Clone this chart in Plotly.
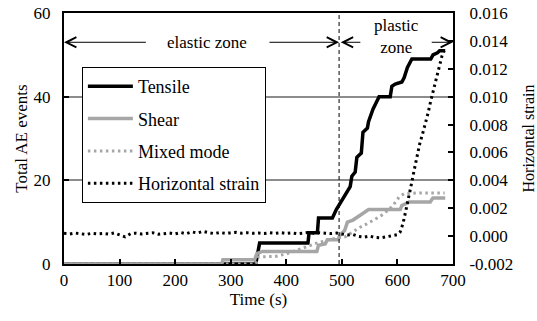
import plotly.graph_objects as go

# ---------------- data ----------------
tensile_t = [0, 345, 352, 439, 441, 456, 458, 483, 490, 497, 503, 510, 515, 518, 524, 527, 535, 538,
             546, 548, 556, 567, 587, 590, 596, 608, 612, 618, 626, 660, 664, 672, 676, 686]
tensile_v = [0, 0, 5, 5, 7.5, 7.5, 11, 11, 13, 14.5, 16, 17.5, 18.5, 21, 22, 25.5, 26.5, 31.5,
             32.5, 34, 37, 40, 40, 42.5, 43, 43.5, 44.5, 47, 49, 49, 50, 50.5, 51, 51]

shear_t = [0, 284, 286, 343, 347, 357, 455, 458, 470, 474, 493, 497, 505, 510, 520, 527, 537, 548,
           605, 608, 614, 621, 659, 664, 686]
shear_v = [0, 0, 1, 1, 2.5, 3, 3, 4.5, 4.8, 5.8, 5.8, 7, 8, 10, 10.5, 11.2, 12, 13,
           13, 14, 14.3, 14.8, 14.8, 15.8, 15.8]

mixed_t = [0, 345, 350, 380, 400, 425, 455, 475, 490, 506, 520, 533, 545, 556, 570, 585, 593,
           603, 612, 640, 685]
mixed_v = [0, 0, 1.7, 1.8, 2.4, 3.6, 5.0, 5.7, 6.2, 6.5, 7.8, 8.8, 9.6, 10.5, 11.5, 13.0, 14.2,
           16.0, 16.8, 17.0, 17.0]

strain_t = [0, 10, 20, 30, 40, 50, 60, 70, 80, 90, 100, 110, 120, 130, 140, 150, 160, 170, 180,
            190, 200, 210, 220, 230, 240, 250, 260, 270, 280, 290, 300, 310, 320, 330, 340, 350,
            360, 370, 380, 390, 400, 410, 420, 430, 440, 450, 460, 470, 480, 490, 500, 510, 520,
            530, 540, 550, 560, 570, 580, 590, 600, 605, 610, 615, 620, 625, 630, 635, 640, 645,
            650, 655, 660, 665, 670, 675, 680, 684]
strain_v = [0.00020, 0.00015, 0.00022, 0.00018, 0.00012, 0.00020, 0.00016, 0.00019, 0.00014,
            0.00022, 0.00010, -0.00005, 0.00018, 0.00021, 0.00015, 0.00019, 0.00024, 0.00014,
            0.00018, 0.00022, 0.00016, 0.00026, 0.00017, 0.00030, 0.00022, 0.00034, 0.00025,
            0.00018, 0.00026, 0.00020, 0.00023, 0.00027, 0.00021, 0.00024, 0.00020, 0.00022,
            0.00018, 0.00024, 0.00020, 0.00025, 0.00019, 0.00023, 0.00017, 0.00022, 0.00026,
            0.00020, 0.00024, 0.00021, 0.00018, 0.00022, 0.00015, 0.00008, 0.00012, -0.00002,
            -0.00008, 0.00000, -0.00010, -0.00012, -0.00005, 0.00000, 0.00010, 0.00030, 0.00090,
            0.00180, 0.00290, 0.00370, 0.00470, 0.00580, 0.00660, 0.00730, 0.00800, 0.00880,
            0.00970, 0.01050, 0.01150, 0.01220, 0.01290, 0.01330]

x_ticks = [0, 100, 200, 300, 400, 500, 600, 700]
y_ticks = [0, 20, 40, 60]
y2_ticks = [-0.002, 0.000, 0.002, 0.004, 0.006, 0.008, 0.010, 0.012, 0.014, 0.016]
y2_labels = ["-0.002", "0.000", "0.002", "0.004", "0.006", "0.008", "0.010", "0.012", "0.014", "0.016"]

zone_boundary = 495          # time (s) separating the elastic and plastic zones
arrow_level = 53             # AE-count level of the zone arrows
elastic_text_t, plastic_text_t = 257, 599
elastic_arrow_ends = [(150, 0), (367, zone_boundary)]
plastic_arrow_ends = [(536, zone_boundary + 3), (659, 700)]

# ---------------- figure ----------------
FONT = "Liberation Serif"
GRAY = "#a6a6a6"
FS = 17

fig = go.Figure()
fig.add_trace(go.Scatter(x=tensile_t, y=tensile_v, name="Tensile", mode="lines",
                         line=dict(color="black", width=3.5), legendrank=1, legendgroup="a"))
fig.add_trace(go.Scatter(x=shear_t, y=shear_v, name="Shear", mode="lines",
                         line=dict(color=GRAY, width=3.5), legendrank=2, legendgroup="b"))
fig.add_trace(go.Scatter(x=mixed_t, y=mixed_v, name="Mixed mode", mode="lines",
                         line=dict(color=GRAY, width=3, dash="2.5px,3.5px"), legendrank=3, legendgroup="c"))
fig.add_trace(go.Scatter(x=strain_t, y=strain_v, name="Horizontal strain", mode="lines", yaxis="y2",
                         line=dict(color="black", width=3, dash="2.5px,3.5px"), legendrank=4, legendgroup="d"))

fig.add_shape(type="line", x0=zone_boundary, x1=zone_boundary, y0=0, y1=60, xref="x", yref="y",
              line=dict(color="black", width=1, dash="4px,3px"))

ann = []
ann.append(dict(x=elastic_text_t, y=arrow_level, text="elastic zone", showarrow=False,
                xref="x", yref="y", font=dict(family=FONT, size=FS, color="black")))
ann.append(dict(x=plastic_text_t, y=arrow_level + 1.4, text="plastic<br>zone", showarrow=False,
                xref="x", yref="y", font=dict(family=FONT, size=FS, color="black")))
for (a, b) in elastic_arrow_ends + plastic_arrow_ends:
    ann.append(dict(x=b, y=arrow_level, ax=a, ay=arrow_level, axref="x", ayref="y", xref="x", yref="y",
                    text="", showarrow=True, arrowhead=5, arrowsize=2, arrowwidth=1,
                    arrowcolor="black", standoff=0, startstandoff=0))

tickfont = dict(family=FONT, size=FS, color="black")
fig.update_layout(
    width=537, height=321,
    margin=dict(l=64, r=84, t=13, b=57),
    paper_bgcolor="white", plot_bgcolor="white",
    font=dict(family=FONT, size=FS, color="black"),
    showlegend=True,
    hovermode=False,
    legend=dict(x=0.046, y=0.785, xanchor="left", yanchor="top", bgcolor="white",
                bordercolor="black", borderwidth=1, tracegroupgap=6, itemwidth=45,
                entrywidth=166, entrywidthmode="pixels",
                font=dict(family=FONT, size=18, color="black")),
    annotations=ann,
    xaxis=dict(range=[0, 700], tickvals=x_ticks, ticks="inside", ticklen=5, tickwidth=2,
               tickcolor="black", showline=True, linecolor="black", linewidth=2, mirror=True,
               showgrid=False, zeroline=False, tickfont=tickfont, automargin=False,
               title=dict(text="Time (s)", font=dict(family=FONT, size=FS), standoff=3)),
    yaxis=dict(range=[0, 60], tickvals=y_ticks, ticks="inside", ticklen=5, tickwidth=2,
               tickcolor="black", showline=True, linecolor="black", linewidth=2, automargin=False,
               ticklabelstandoff=8,
               showgrid=True, gridcolor="#8c8c8c", gridwidth=1.5, zeroline=False, tickfont=tickfont,
               title=dict(text="Total AE events", font=dict(family=FONT, size=FS), standoff=2)),
    yaxis2=dict(range=[-0.002, 0.016], tickvals=y2_ticks, ticktext=y2_labels, overlaying="y",
                side="right", ticks="inside", ticklen=5, tickwidth=2, tickcolor="black",
                showline=True, linecolor="black", linewidth=2, showgrid=False, zeroline=False,
                tickfont=tickfont, automargin=False, ticklabelstandoff=11,
                title=dict(text="Horizontal strain", font=dict(family=FONT, size=16), standoff=12)),
)

# remove the browser's default 8 px page margin so the figure fills the window exactly
fig.write_html("out.html", config={"displayModeBar": False},
               post_script="document.body.style.margin='0px';")
